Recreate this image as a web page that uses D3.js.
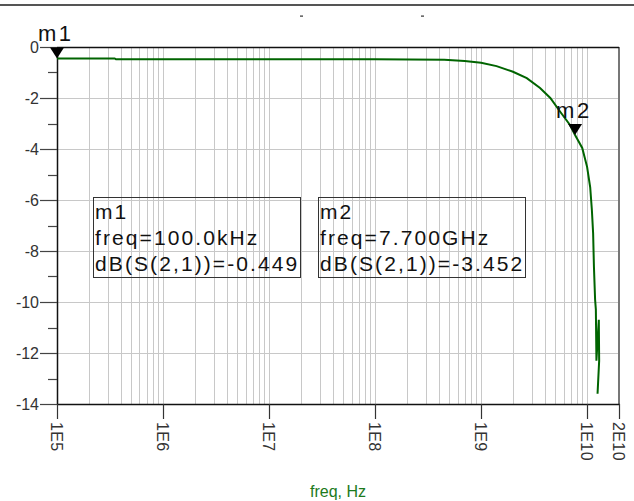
<!DOCTYPE html>
<html>
<head>
<meta charset="utf-8">
<script src="https://cdn.jsdelivr.net/npm/d3@7"></script>
<style>
  body { margin: 0; background: #fff; }
  svg { display: block; font-family: "Liberation Sans", Arial, sans-serif; }
</style>
</head>
<body>
<div id="chart"></div>
<script>
// S21 sweep (freq in Hz, dB(S(2,1)))
const freqHz = [1e5, 3.5e5, 3.6e5, 1e7, 1e8, 4.5e8, 7e8, 1e9, 1.4e9, 2e9, 2.7e9, 3.6e9, 4.5e9,
  5.6e9, 6.9e9, 7.7e9, 9e9, 1e10, 1.07e10, 1.11e10, 1.14e10, 1.16e10, 1.19e10, 1.21e10,
  1.225e10, 1.29e10, 1.30e10, 1.255e10];
const s21dB = [-0.449, -0.449, -0.48, -0.48, -0.48, -0.5, -0.55, -0.62, -0.75, -0.97, -1.22, -1.61, -2.0,
  -2.55, -3.06, -3.452, -3.96, -4.7, -5.5, -6.4, -7.3, -8.6, -9.9, -10.3,
  -12.3, -10.7, -12.3, -13.6];

// markers
const markerNames = ["m1", "m2"];
const markerFreq = [1e5, 7.7e9];
const markerDB = [-0.449, -3.452];
const markerFreqText = ["100.0kHz", "7.700GHz"];

// axis ticks
const yTickValues = [0, -2, -4, -6, -8, -10, -12, -14];
const yMinorValues = [-1, -3, -5, -7, -9, -11, -13];
const xTickValues = [1e5, 1e6, 1e7, 1e8, 1e9, 1e10, 2e10];
const xTickLabels = ["1E5", "1E6", "1E7", "1E8", "1E9", "1E10", "2E10"];

const width = 634, height = 501;
const pLeft = 57, pRight = 619, pTop = 47, pBottom = 404;

const svg = d3.select("#chart").append("svg")
  .attr("width", width)
  .attr("height", height);

const x = d3.scaleLog().domain([1e5, 2e10]).range([pLeft, pRight]);
const y = d3.scaleLinear().domain([0, -14]).range([pTop, pBottom]);

// top rule of the page + two stray dashes from the clipped title
svg.append("line")
  .attr("x1", 0).attr("x2", width).attr("y1", 5).attr("y2", 5)
  .attr("stroke", "#555").attr("stroke-width", 2);
svg.selectAll("rect.dash").data([301, 422]).enter().append("rect")
  .attr("class", "dash")
  .attr("x", d => d - 1).attr("y", 15.5).attr("width", 3).attr("height", 1.2)
  .attr("fill", "#333");

// log grid
var gridFreqs = [];
for (var d = 5; d <= 9; d++) {
  for (var k = 1; k <= 9; k++) gridFreqs.push(k * Math.pow(10, d));
}
gridFreqs.push(1e10);

svg.append("g").selectAll("line").data(gridFreqs).enter().append("line")
  .attr("x1", d => Math.round(x(d)) + 0.5).attr("x2", d => Math.round(x(d)) + 0.5)
  .attr("y1", pTop).attr("y2", pBottom)
  .attr("stroke", "#c8c8c8").attr("stroke-width", 1);

svg.append("g").selectAll("line").data(yTickValues.slice(1, -1)).enter().append("line")
  .attr("x1", pLeft).attr("x2", pRight)
  .attr("y1", d => Math.round(y(d)) + 0.5).attr("y2", d => Math.round(y(d)) + 0.5)
  .attr("stroke", "#c8c8c8").attr("stroke-width", 1);

// frame
svg.append("line").attr("x1", pRight).attr("x2", pRight).attr("y1", pTop).attr("y2", pBottom)
  .attr("stroke", "#777").attr("stroke-width", 2);
svg.append("line").attr("x1", pLeft).attr("x2", pRight).attr("y1", pTop + 0.5).attr("y2", pTop + 0.5)
  .attr("stroke", "#111").attr("stroke-width", 1.3);
svg.append("line").attr("x1", pLeft).attr("x2", pRight + 1).attr("y1", pBottom + 0.5).attr("y2", pBottom + 0.5)
  .attr("stroke", "#111").attr("stroke-width", 1.3);
svg.append("line").attr("x1", pLeft + 0.5).attr("x2", pLeft + 0.5).attr("y1", pTop).attr("y2", pBottom)
  .attr("stroke", "#111").attr("stroke-width", 1.5);

// y ticks and labels
svg.append("g").selectAll("line").data(yTickValues).enter().append("line")
  .attr("x1", 40).attr("x2", pLeft)
  .attr("y1", d => Math.round(y(d)) + 0.5).attr("y2", d => Math.round(y(d)) + 0.5)
  .attr("stroke", "#444").attr("stroke-width", 1.2);
svg.append("g").selectAll("line").data(yMinorValues).enter().append("line")
  .attr("x1", 48).attr("x2", pLeft)
  .attr("y1", d => Math.round(y(d)) + 0.5).attr("y2", d => Math.round(y(d)) + 0.5)
  .attr("stroke", "#444").attr("stroke-width", 1.2);
svg.append("g").selectAll("text").data(yTickValues).enter().append("text")
  .attr("x", 39).attr("y", d => y(d)).attr("dy", "0.36em")
  .attr("text-anchor", "end")
  .attr("font-size", 16).attr("fill", "#333")
  .text(d => d);

// x ticks and rotated labels
svg.append("g").selectAll("line").data(xTickValues).enter().append("line")
  .attr("x1", d => Math.round(x(d)) + 0.5).attr("x2", d => Math.round(x(d)) + 0.5)
  .attr("y1", pBottom).attr("y2", 419)
  .attr("stroke", "#333").attr("stroke-width", 1.2);
svg.append("g").selectAll("text").data(xTickValues).enter().append("text")
  .attr("transform", d => "translate(" + x(d) + ",422) rotate(90)")
  .attr("dy", "0.36em")
  .attr("font-size", 16).attr("fill", "#333").attr("letter-spacing", 0.4)
  .text((d, i) => xTickLabels[i]);

// axis title
svg.append("text")
  .attr("x", (pLeft + pRight) / 2).attr("y", 497)
  .attr("text-anchor", "middle")
  .attr("font-size", 16).attr("fill", "#1c7a1c")
  .text("freq, Hz");

// the trace
var pts = freqHz.map((f, i) => ({f: f, db: s21dB[i]}));
var line = d3.line().x(d => x(d.f)).y(d => y(d.db));
svg.append("path")
  .datum(pts)
  .attr("d", line)
  .attr("fill", "none")
  .attr("stroke", "#006400")
  .attr("stroke-width", 2);

// marker triangles + names
var markers = markerNames.map((n, i) => ({name: n, f: markerFreq[i], db: markerDB[i], ft: markerFreqText[i]}));
var mg = svg.append("g").selectAll("g").data(markers).enter().append("g")
  .attr("transform", d => "translate(" + x(d.f) + "," + y(d.db) + ")");
mg.append("path")
  .attr("d", "M0,0 L-7,-11 L7,-11 Z")
  .attr("fill", "#000");
mg.append("text")
  .attr("x", -19).attr("y", -17)
  .attr("font-size", 22).attr("letter-spacing", 2.5).attr("fill", "#111")
  .text(d => d.name);

// readout boxes
var boxLeft = [93, 318];
var bg = svg.append("g").selectAll("g").data(markers).enter().append("g")
  .attr("transform", (d, i) => "translate(" + boxLeft[i] + ",197)");
bg.append("rect")
  .attr("x", 0.5).attr("y", 0.5).attr("width", 207).attr("height", 80)
  .attr("fill", "none").attr("stroke", "#333").attr("stroke-width", 1);
bg.selectAll("text")
  .data(d => [d.name, "freq=" + d.ft, "dB(S(2,1))=" + d.db.toFixed(3)])
  .enter().append("text")
  .attr("x", 2).attr("y", (d, i) => 22 + i * 26)
  .attr("font-size", 21).attr("letter-spacing", 2.1).attr("fill", "#111")
  .text(d => d);
</script>
</body>
</html>
